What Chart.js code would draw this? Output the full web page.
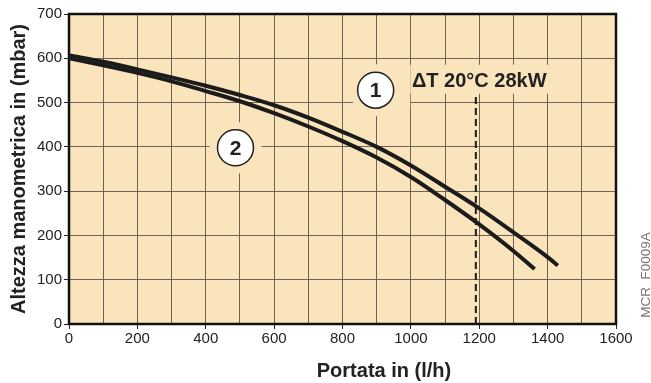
<!DOCTYPE html>
<html>
<head>
<meta charset="utf-8">
<script src="https://cdn.jsdelivr.net/npm/chart.js@4/dist/chart.umd.min.js"></script>
<style>
  html, body { margin: 0; padding: 0; background: #fff; }
  #wrap { width: 651px; height: 383px; }
</style>
</head>
<body>
<div id="wrap"><canvas id="pumpChart" width="651" height="383"></canvas></div>
<script>
// curve 1 (upper) and curve 2 (lower): flow l/h vs head mbar
const flow1 = [0, 100, 200, 300, 400, 500, 600, 700, 800, 900, 1000, 1100, 1200, 1300, 1400, 1430];
const head1 = [607, 592, 575, 557, 538, 517, 494, 466, 434, 400, 358, 310, 261, 207, 151, 132];
const flow2 = [0, 100, 200, 300, 400, 500, 600, 700, 800, 900, 1000, 1100, 1200, 1300, 1362];
const head2 = [600, 584, 567, 548, 526, 503, 476, 446, 413, 376, 332, 280, 225, 165, 124];

// design point line
const refFlow = [1190, 1190];
const refHead = [0, 518];

// annotations
const circleLabels = ['1', '2'];
const circleX = [897, 487];
const circleY = [528, 398];
const noteText = '\u0394T 20\u00B0C 28kW';
const noteX = 1200;
const noteY = 547;

const plotBg = '#fae4bb';
const gridColor = '#6e6352';
const fontFamily = '"Liberation Sans", Arial, sans-serif';

function toPoints(xs, ys) {
    return xs.map((x, i) => ({ x: x, y: ys[i] }));
}

const decorations = {
    id: 'decorations',
    beforeDraw(chart) {
        const { ctx, chartArea: a } = chart;
        ctx.save();
        ctx.fillStyle = plotBg;
        ctx.fillRect(a.left, a.top, a.right - a.left, a.bottom - a.top);
        ctx.restore();
    },
    beforeDatasetsDraw(chart) {
        const { ctx, chartArea: a, scales } = chart;
        const xs = scales.x, ys = scales.y;
        ctx.save();
        // gaps in the grid around the labels
        ctx.fillStyle = plotBg;
        circleLabels.forEach((t, i) => {
            const cx = xs.getPixelForValue(circleX[i]);
            const cy = ys.getPixelForValue(circleY[i]);
            ctx.beginPath();
            ctx.arc(cx, cy, 26, 0, Math.PI * 2);
            ctx.fill();
        });
        const nx = xs.getPixelForValue(noteX);
        const ny = ys.getPixelForValue(noteY);
        ctx.fillRect(nx - 69, ny - 17, 140, 29);
        ctx.fillRect(xs.getPixelForValue(circleX[0]), ny + 12, nx - 69 - xs.getPixelForValue(circleX[0]), 16);

        // frame
        ctx.strokeStyle = '#111';
        ctx.lineWidth = 2.5;
        ctx.strokeRect(a.left, a.top, a.right - a.left, a.bottom - a.top);
        ctx.restore();
    },
    afterDatasetsDraw(chart) {
        const { ctx, scales } = chart;
        const xs = scales.x, ys = scales.y;
        ctx.save();
        circleLabels.forEach((t, i) => {
            const cx = xs.getPixelForValue(circleX[i]);
            const cy = ys.getPixelForValue(circleY[i]);
            ctx.beginPath();
            ctx.arc(cx, cy, 18, 0, Math.PI * 2);
            ctx.fillStyle = '#fff';
            ctx.fill();
            ctx.lineWidth = 1.5;
            ctx.strokeStyle = '#222';
            ctx.stroke();
            ctx.fillStyle = '#222';
            ctx.font = 'bold 21px ' + fontFamily;
            ctx.textAlign = 'center';
            ctx.textBaseline = 'middle';
            ctx.fillText(t, cx, cy + 1);
        });
        ctx.fillStyle = '#222';
        ctx.font = 'bold 20px ' + fontFamily;
        ctx.textAlign = 'center';
        ctx.textBaseline = 'middle';
        ctx.fillText(noteText, xs.getPixelForValue(noteX), ys.getPixelForValue(noteY));
        ctx.restore();
    },
    afterDraw(chart) {
        const { ctx } = chart;
        ctx.save();
        ctx.fillStyle = '#222';
        ctx.font = 'bold 20px ' + fontFamily;
        ctx.textAlign = 'center';
        ctx.textBaseline = 'middle';
        ctx.fillText('Portata in (l/h)', 384, 371);

        ctx.translate(646, 275);
        ctx.rotate(-Math.PI / 2);
        ctx.fillStyle = '#777';
        ctx.font = '13.5px ' + fontFamily;
        ctx.fillText('MCR  F0009A', 0, 0);
        ctx.restore();
    }
};

const ctx = document.getElementById('pumpChart').getContext('2d');
new Chart(ctx, {
    type: 'line',
    data: {
        datasets: [{
            label: '1',
            data: toPoints(flow1, head1),
            borderColor: '#1b1b1b',
            borderWidth: 4,
            pointRadius: 0,
            fill: false,
            cubicInterpolationMode: 'monotone'
        }, {
            label: '2',
            data: toPoints(flow2, head2),
            borderColor: '#1b1b1b',
            borderWidth: 4,
            pointRadius: 0,
            fill: false,
            cubicInterpolationMode: 'monotone'
        }, {
            label: 'ref',
            data: toPoints(refFlow, refHead),
            borderColor: '#1b1b1b',
            borderWidth: 2,
            borderDash: [7, 4],
            pointRadius: 0,
            fill: false
        }]
    },
    options: {
        responsive: false,
        animation: false,
        layout: { padding: { top: 14, right: 35, left: 0, bottom: 0 } },
        plugins: {
            legend: { display: false },
            tooltip: { enabled: false }
        },
        scales: {
            x: {
                type: 'linear',
                min: 0,
                max: 1600,
                afterFit: s => { s.height = 59; },
                grid: {
                    color: gridColor,
                    lineWidth: 1,
                    tickColor: c => (c.tick && c.tick.value % 200 === 0 ? '#222' : 'rgba(0,0,0,0)'),
                    tickLength: 5
                },
                border: { display: false },
                ticks: {
                    stepSize: 100,
                    autoSkip: false,
                    maxRotation: 0,
                    padding: 1,
                    color: '#222',
                    font: { family: fontFamily, size: 15 },
                    callback: v => (v % 200 === 0 ? v : '')
                }
            },
            y: {
                min: 0,
                max: 700,
                afterFit: s => { s.width = 69; },
                grid: { color: gridColor, lineWidth: 1, tickColor: '#222', tickLength: 5 },
                border: { display: false },
                ticks: {
                    stepSize: 100,
                    padding: 2,
                    color: '#222',
                    font: { family: fontFamily, size: 15 }
                },
                title: {
                    display: true,
                    text: 'Altezza manometrica in (mbar)',
                    color: '#222',
                    padding: { top: 7, bottom: 0 },
                    font: { family: fontFamily, size: 20, weight: 'bold' }
                }
            }
        }
    },
    plugins: [decorations]
});
</script>
</body>
</html>
